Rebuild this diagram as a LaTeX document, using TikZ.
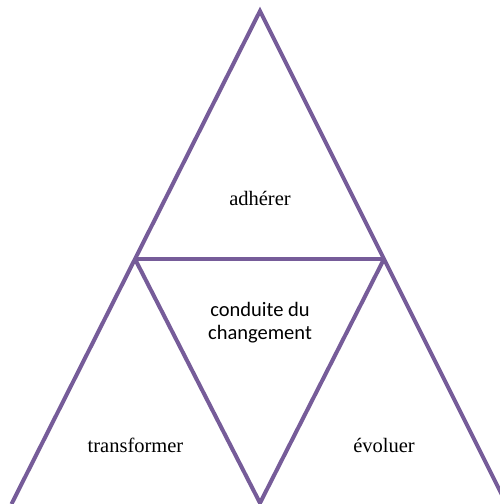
\documentclass[tikz,border=0pt]{standalone}
\usepackage{fontspec}
\setmainfont{Liberation Serif}
\newfontfamily\calibri{Carlito}
\definecolor{linepurple}{RGB}{118,92,153}
\begin{document}
\begin{tikzpicture}[x=1pt,y=-1pt,
  edge/.style={draw=linepurple,line width=4pt,line join=miter},
  serlabel/.style={anchor=base,font=\fontsize{20.5}{24}\selectfont,inner sep=0pt},
  sanslabel/.style={anchor=center,align=center,font=\calibri\fontsize{20.5}{23}\selectfont,inner sep=0pt}]
\useasboundingbox (0,0) rectangle (500,504);
\clip (0,0) rectangle (500,504);
\coordinate (top) at (260,11);
\coordinate (ml) at (135,259);
\coordinate (mr) at (384,259);
\coordinate (bl) at (11.5,504);
\coordinate (bm) at (260,503);
\coordinate (br) at (506.5,504);
\draw[edge] (bl) -- (top) -- (br);
\draw[edge] (ml) -- (mr);
\draw[edge] (ml) -- (bm) -- (mr);
\node[serlabel] (adh) at (260,205) {adhérer};
\node[sanslabel] (cond) at (260,323) {conduite du\\changement};
\node[serlabel] (trans) at (135.5,452) {transformer};
\node[serlabel] (evol) at (384,452) {évoluer};
\end{tikzpicture}
\end{document}
